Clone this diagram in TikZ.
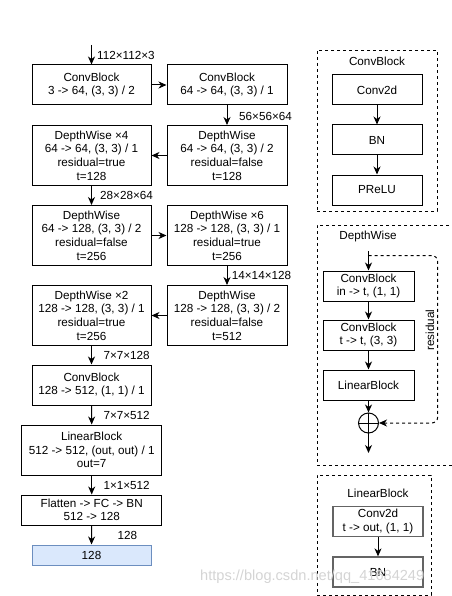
\documentclass[tikz,border=0pt]{standalone}
\usepackage{fontspec}
\setmainfont{Liberation Sans}
\usetikzlibrary{arrows.meta}
\begin{document}
\begin{tikzpicture}[x=1pt,y=-1pt,
  font=\fontsize{11.7}{13.6}\selectfont,
  box/.style={draw, line width=1pt, rectangle, align=center, inner sep=0pt},
  gbox/.style={draw={rgb,255:red,100;green,100;blue,100}, line width=1.3pt, rectangle, align=center, inner sep=0pt},
  arr/.style={-{Stealth[length=8pt,width=7pt,inset=2.5pt]}, line width=1pt},
  lbl/.style={anchor=west, inner sep=0pt},
  cont/.style={draw, line width=0.8pt, dash pattern=on 3pt off 3pt, inner sep=0pt}]
\useasboundingbox (0,0) rectangle (451,596);
% main chain
\node[box, minimum width=119pt, minimum height=40pt] (b1) at (91.5,85) {ConvBlock\\3 -> 64, (3, 3) / 2};
\node[box, minimum width=120pt, minimum height=40pt] (b2) at (227,85) {ConvBlock\\64 -> 64, (3, 3) / 1};
\node[box, minimum width=119pt, minimum height=60pt] (b3) at (91.5,155.5) {DepthWise ×4\\64 -> 64, (3, 3) / 1\\residual=true\\t=128};
\node[box, minimum width=120pt, minimum height=60pt] (b4) at (227,155.5) {DepthWise\\64 -> 64, (3, 3) / 2\\residual=false\\t=128};
\node[box, minimum width=119pt, minimum height=60pt] (b5) at (91.5,235.5) {DepthWise\\64 -> 128, (3, 3) / 2\\residual=false\\t=256};
\node[box, minimum width=120pt, minimum height=60pt] (b6) at (227,235.5) {DepthWise ×6\\128 -> 128, (3, 3) / 1\\residual=true\\t=256};
\node[box, minimum width=119pt, minimum height=60pt] (b7) at (91.5,315.5) {DepthWise ×2\\128 -> 128, (3, 3) / 1\\residual=true\\t=256};
\node[box, minimum width=120pt, minimum height=60pt] (b8) at (227,315.5) {DepthWise\\128 -> 128, (3, 3) / 2\\residual=false\\t=512};
\node[box, minimum width=119pt, minimum height=40pt] (b9) at (91.5,385) {ConvBlock\\128 -> 512, (1, 1) / 1};
\node[box, minimum width=140pt, minimum height=50pt] (b10) at (91.7,450) {LinearBlock\\512 -> 512, (out, out) / 1\\out=7};
\node[box, minimum width=140pt, minimum height=30pt] (b11) at (91.7,510) {Flatten -> FC -> BN\\512 -> 128};
\node[box, draw={rgb,255:red,108;green,142;blue,191}, fill={rgb,255:red,218;green,232;blue,252}, minimum width=119pt, minimum height=20pt] (b12) at (91.5,555) {128};
\coordinate (in1) at (91.5,45);
\draw[arr] (in1) -- (b1.north);
\draw[arr] (b1.east) -- (b2.west);
\draw[arr] (b2.south) -- (b4.north);
\draw[arr] (b4.west) -- (b3.east);
\draw[arr] (b3.south) -- (b5.north);
\draw[arr] (b5.east) -- (b6.west);
\draw[arr] (b6.south) -- (b8.north);
\draw[arr] (b8.west) -- (b7.east);
\draw[arr] (b7.south) -- (b9.north);
\draw[arr] (b9.south) -- (b10.north);
\draw[arr] (b10.south) -- (b11.north);
\draw[arr] (b11.south) -- (b12.north);
\node[lbl] (l1) at (97,55.7) {112×112×3};
\node[lbl] (l2) at (239,116) {56×56×64};
\node[lbl] (l3) at (100,195.7) {28×28×64};
\node[lbl] (l4) at (231.7,275.7) {14×14×128};
\node[lbl] (l5) at (103.3,355.7) {7×7×128};
\node[lbl] (l6) at (103.3,415.7) {7×7×512};
\node[lbl] (l7) at (103.3,485.7) {1×1×512};
\node[lbl] (l8) at (117.3,535.7) {128};
% ConvBlock legend
\node[cont, minimum width=120pt, minimum height=161pt] (k1) at (377,130.5) {};
\node (k1t) at (377,61) {ConvBlock};
\node[box, minimum width=90pt, minimum height=30pt] (c1) at (377,90) {Conv2d};
\node[box, minimum width=90pt, minimum height=30pt] (c2) at (377,140) {BN};
\node[box, minimum width=90pt, minimum height=30pt] (c3) at (377,190) {PReLU};
\draw[arr] (c1.south) -- (c2.north);
\draw[arr] (c2.south) -- (c3.north);
% DepthWise legend
\node[cont, minimum width=153pt, minimum height=240pt] (k2) at (393.5,345) {};
\node (k2t) at (368,236) {DepthWise};
\node[box, minimum width=91pt, minimum height=30pt] (d1) at (368.5,286) {ConvBlock\\in -> t, (1, 1)};
\node[box, minimum width=91pt, minimum height=30pt] (d2) at (368.5,335) {ConvBlock\\t -> t, (3, 3)};
\node[box, minimum width=91pt, minimum height=30pt] (d3) at (368.5,385) {LinearBlock};
\node[draw, circle, line width=1pt, minimum size=20pt, inner sep=0pt] (pl) at (368.5,423) {};
\draw[line width=1pt] (pl.north) -- (pl.south) (pl.west) -- (pl.east);
\coordinate (din) at (368.5,251);
\coordinate (dout) at (368.5,453);
\coordinate (rs) at (368.5,255.5);
\coordinate (rc1) at (437.7,255.5);
\coordinate (rc2) at (437.7,423);
\draw[arr] (din) -- (d1.north);
\draw[arr] (d1.south) -- (d2.north);
\draw[arr] (d2.south) -- (d3.north);
\draw[arr] (d3.south) -- (pl.north);
\draw[arr] (pl.south) -- (dout);
\draw[arr, dash pattern=on 3pt off 3pt, rounded corners=6pt] (rs) -- (rc1) -- (rc2) -- (pl.east);
\node[rotate=90] (rl) at (430,330) {residual};
% LinearBlock legend
\node[cont, minimum width=114pt, minimum height=120pt] (k3) at (374,535) {};
\node (k3t) at (378,493.5) {LinearBlock};
\node[gbox, minimum width=90pt, minimum height=30pt] (e1) at (378,521.7) {Conv2d\\t -> out, (1, 1)};
\node[gbox, minimum width=90pt, minimum height=30pt] (e2) at (378,572) {BN};
\draw[arr] (e1.south) -- (e2.north);
% watermark
\node[anchor=west, inner sep=0pt, text=black!17, font=\fontsize{14.6}{16}\selectfont] (wm) at (200,577) {https://blog.csdn.net/qq\_41684249};
\end{tikzpicture}
\end{document}
